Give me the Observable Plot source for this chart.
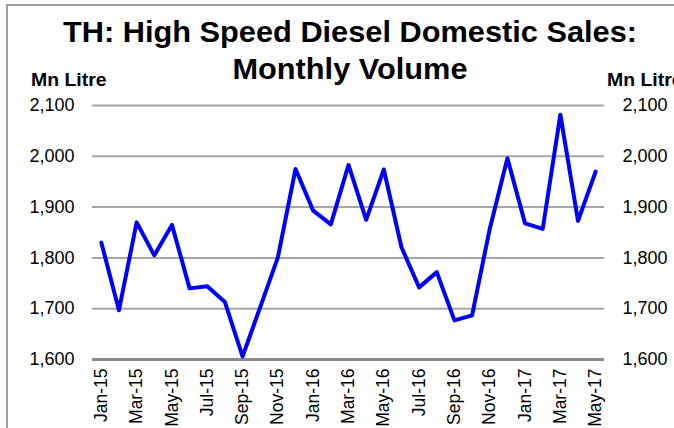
<!DOCTYPE html>
<html>
<head>
<meta charset="utf-8">
<script src="https://cdn.jsdelivr.net/npm/d3@7"></script>
<script src="https://cdn.jsdelivr.net/npm/@observablehq/plot@0.6"></script>
<style>
  html, body { margin: 0; padding: 0; background: #fff; overflow: hidden; }
  #wrap { position: relative; width: 674px; height: 428px; font-family: "Liberation Sans", Arial, sans-serif; }
  #frame { position: absolute; left: 6px; top: 4px; width: 800px; height: 600px; border: 2px solid #a0a0a0; box-sizing: border-box; }
  .t { position: absolute; font-weight: bold; color: #000; white-space: nowrap; line-height: 1; }
  #title1, #title2 { left: 0; width: 700px; text-align: center; font-size: 29px; transform: scaleX(1.06); transform-origin: 350px 0; }
  #title1 { top: 18px; }
  #title2 { top: 55px; }
  .unit { font-size: 18px; transform: scaleX(1.08); transform-origin: 0 0; }
  #unitL { left: 31px; top: 71px; }
  #unitR { left: 607px; top: 71px; }
  #chart { position: absolute; left: 0; top: 0; }
</style>
</head>
<body>
<div id="wrap">
  <div id="frame"></div>
  <div id="chart"></div>
  <div class="t" id="title1">TH: High Speed Diesel Domestic Sales:</div>
  <div class="t" id="title2">Monthly Volume</div>
  <div class="t unit" id="unitL">Mn Litre</div>
  <div class="t unit" id="unitR">Mn Litre</div>
</div>
<script>
const months = ["Jan-15","Feb-15","Mar-15","Apr-15","May-15","Jun-15","Jul-15","Aug-15","Sep-15","Oct-15","Nov-15","Dec-15",
  "Jan-16","Feb-16","Mar-16","Apr-16","May-16","Jun-16","Jul-16","Aug-16","Sep-16","Oct-16","Nov-16","Dec-16",
  "Jan-17","Feb-17","Mar-17","Apr-17","May-17"];
const sales = [1830,1697,1870,1805,1865,1740,1744,1713,1606,1703,1801,1975,
  1893,1866,1983,1875,1974,1821,1742,1772,1677,1687,1857,1996,
  1868,1857,2082,1873,1970];
const yTicks = [1600,1700,1800,1900,2000,2100];
const xTickLabels = ["Jan-15","Mar-15","May-15","Jul-15","Sep-15","Nov-15","Jan-16","Mar-16","May-16","Jul-16","Sep-16","Nov-16","Jan-17","Mar-17","May-17"];

const data = months.map((m, i) => ({month: m, value: sales[i]}));
const fmt = d3.format(",");

const chart = Plot.plot({
  width: 674,
  height: 428,
  marginTop: 105,
  marginBottom: 69,
  marginLeft: 92,
  marginRight: 70,
  style: {fontFamily: '"Liberation Sans", Arial, sans-serif', color: "#000", background: "transparent", overflow: "visible"},
  x: {type: "point", domain: months, padding: 0.5, round: false},
  y: {domain: [1600, 2100]},
  marks: [
    Plot.ruleY(yTicks.filter(t => t > 1600), {stroke: "#a6a6a6", strokeWidth: 2}),
    Plot.ruleY([1600], {stroke: "#8c8c8c", strokeWidth: 3}),
    Plot.axisY({anchor: "left", ticks: yTicks, tickSize: 0, tickPadding: 18, tickFormat: fmt, fontSize: 18, label: null}),
    Plot.axisY({anchor: "right", ticks: yTicks, tickSize: 0, tickPadding: 18, tickFormat: fmt, fontSize: 18, label: null}),
    Plot.axisX({ticks: xTickLabels, tickRotate: -90, tickSize: 0, tickPadding: 9, fontSize: 17.5, label: null}),
    Plot.line(data, {x: "month", y: "value", stroke: "#0000ff", strokeWidth: 4, strokeLinejoin: "round", strokeLinecap: "round"})
  ]
});
document.getElementById("chart").appendChild(chart);
</script>
</body>
</html>
